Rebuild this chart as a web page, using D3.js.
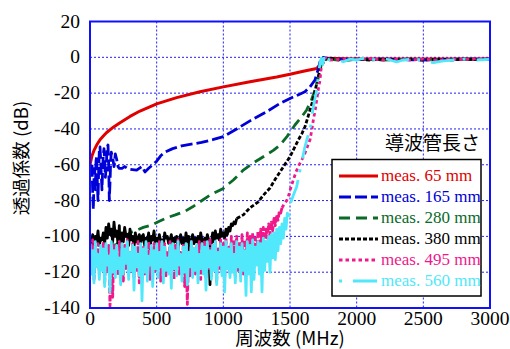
<!DOCTYPE html>
<html><head><meta charset="utf-8">
<script src="https://cdn.jsdelivr.net/npm/d3@7"></script>
<style>body{margin:0;background:#fff}svg{display:block}</style>
</head><body>
<script>
// ---------- data ----------
const xTicks = [0,500,1000,1500,2000,2500,3000];
const yTicks = [20,0,-20,-40,-60,-80,-100,-120,-140];
const seriesLabels = ["meas. 65 mm","meas. 165 mm","meas. 280 mm","meas. 380 mm","meas. 495 mm","meas. 560 mm"];
const xTitle = "周波数 (MHz)";
const yTitle = "透過係数 (dB)";
const legendTitle = "導波管長さ";

const s65 = [[0,-60],[15,-55],[30,-52],[50,-49],[75,-46],[100,-44],[125,-42],[175,-39],[225,-36.5],[300,-33],[375,-30],[500,-26],[650,-22.5],[825,-19.2],[1000,-16.5],[1200,-13.6],[1400,-11],[1500,-9.5],[1600,-7.8],[1700,-6.2],[1730,-4],[1750,-1],[1780,-0.5],[2000,-1],[2500,-1],[3000,-1]];

const s165 = [[15,-60],[20,-75],[25,-85],[30,-68],[35,-62],[40,-74],[45,-58],[50,-55],[55,-70],[60,-80],[65,-63],[70,-52],[75,-50],[80,-57],[85,-66],[90,-74],[95,-62],[100,-54],[105,-51],[110,-58],[115,-67],[120,-63],[125,-56],[130,-50],[135,-49],[140,-60],[145,-80],[150,-70],[155,-58],[160,-53],[170,-56],[180,-61],[190,-54],[200,-57],[210,-61],[220,-62],[240,-62],[260,-61],[280,-62],[300,-62.5],[350,-63],[390,-61],[412,-64],[440,-62],[470,-60],[500,-58],[530,-55],[562,-53],[620,-51],[687,-49.5],[760,-48.5],[837,-47.5],[920,-46],[1000,-44.3],[1100,-40],[1200,-35.5],[1325,-30.4],[1420,-26],[1500,-23],[1560,-21],[1612,-19.2],[1650,-16.5],[1687,-12.7],[1710,-7],[1725,-2.5],[1750,0],[1800,-1],[2000,-1.2],[2200,-1],[2500,-1.5],[2800,-1],[3000,-1]];

const s280 = [[150,-104],[190,-105],[220,-103],[260,-100],[300,-98],[350,-96.5],[400,-95],[462,-93.7],[520,-91.5],[580,-89.5],[640,-88],[712,-86],[770,-83.5],[825,-80.7],[900,-77],[1000,-73.2],[1075,-68.5],[1150,-63],[1225,-59],[1300,-55.5],[1375,-52],[1425,-49],[1480,-44],[1537,-37.8],[1585,-33.5],[1625,-29.4],[1660,-24],[1687,-18.3],[1710,-12],[1725,-7],[1745,-1],[1760,0.5],[1800,-1],[1900,-2],[2000,-1],[2200,-1.5],[2400,-1],[2600,-1.5],[2800,-1],[3000,-1.2]];

const s380 = [[0,-101],[10,-104],[20,-99],[30,-106],[40,-100],[50,-103],[60,-97],[70,-105],[80,-101],[90,-102],
[100,-98],[110,-104],[120,-95],[130,-101],[140,-93],[150,-99],[160,-96],[170,-103],[180,-92],[190,-100],
[200,-97],[210,-104],[220,-94],[230,-119],[240,-98],[250,-103],[260,-95],[270,-100],[280,-99],[290,-105],
[300,-96],[310,-102],[320,-100],[330,-106],[340,-98],[350,-103],[360,-101],[370,-99],[380,-104],[390,-100],
[400,-99],[410,-105],[420,-101],[430,-103],[440,-98],[450,-107],[460,-100],[470,-102],[480,-97],[490,-104],
[500,-101],[510,-106],[520,-99],[530,-103],[540,-102],[550,-105],[560,-98],[570,-101],[580,-100],[590,-104],
[600,-102],[610,-99],[620,-105],[630,-101],[640,-103],[650,-100],[660,-107],[670,-102],[680,-99],[690,-104],
[700,-101],[710,-105],[720,-98],[730,-103],[740,-100],[750,-115],[760,-102],[770,-99],[780,-104],[790,-101],
[800,-103],[810,-100],[820,-106],[830,-98],[840,-102],[850,-105],[860,-101],[870,-104],[880,-99],[890,-102],
[900,-127],[910,-104],[920,-98],[930,-103],[940,-97],[950,-101],[960,-99],[970,-102],[980,-96],[990,-100],
[1000,-98],[1010,-101],[1020,-96],[1030,-99],[1040,-95],[1050,-97],[1060,-93],[1070,-94],[1080,-92],[1090,-93],
[1100,-90],[1125,-89],[1150,-88],[1175,-86],[1200,-84],[1230,-82.5],[1262,-80.7],[1300,-77],[1350,-73],[1390,-68],[1425,-64],[1460,-60],[1500,-55.5],[1530,-51],[1562,-46.2],[1590,-42.5],[1612,-38.8],[1630,-34.5],[1650,-29.4],[1670,-24.5],[1687,-19.2],[1705,-13],[1725,-7],[1740,-4],[1755,-2.5],[1770,-1],[1800,-0.5],[1900,-1.5],[2000,-1],[2100,-1.5],[2200,-1],[2300,-1.5],[2400,-1],[2500,-1.5],[2600,-1],[2700,-1.5],[2800,-1],[2900,-1.3],[3000,-1]];

const s495 = [[0,-106],[10,-118],[20,-102],[30,-124],[40,-109],[50,-115],[60,-104],[70,-121],[80,-111],[90,-117],
[100,-103],[110,-126],[120,-108],[130,-119],[140,-105],[150,-139],[160,-110],[170,-134],[180,-104],[190,-118],
[200,-107],[210,-122],[220,-103],[230,-116],[240,-109],[250,-125],[260,-105],[270,-119],[280,-102],[290,-121],
[300,-108],[310,-117],[320,-104],[330,-123],[340,-106],[350,-119],[360,-103],[370,-126],[380,-110],[390,-116],
[400,-105],[410,-121],[420,-108],[430,-118],[440,-103],[450,-124],[460,-107],[470,-116],[480,-104],[490,-120],
[500,-109],[510,-117],[520,-103],[530,-125],[540,-106],[550,-119],[560,-104],[570,-122],[580,-108],[590,-118],
[600,-103],[610,-120],[620,-107],[630,-124],[640,-105],[650,-117],[660,-102],[670,-121],[680,-109],[690,-119],
[700,-104],[710,-128],[720,-106],[730,-138],[740,-108],[750,-122],[760,-103],[770,-118],[780,-107],[790,-121],
[800,-105],[810,-119],[820,-103],[830,-124],[840,-108],[850,-116],[860,-102],[870,-123],[880,-106],[890,-118],
[900,-101],[910,-122],[920,-105],[930,-117],[940,-103],[950,-125],[960,-107],[970,-119],[980,-102],[990,-120],
[1000,-104],[1010,-124],[1020,-101],[1030,-118],[1040,-106],[1050,-121],[1060,-100],[1070,-117],[1080,-103],[1090,-123],
[1100,-100],[1110,-119],[1120,-103],[1130,-116],[1140,-99],[1150,-121],[1160,-102],[1170,-115],[1180,-98],[1190,-118],
[1200,-100],[1210,-114],[1220,-98],[1230,-112],[1240,-101],[1250,-109],[1260,-97],[1270,-108],[1280,-96],[1290,-105],
[1300,-95],[1310,-104],[1320,-96],[1330,-101],[1340,-93],[1350,-99],[1360,-92],[1370,-97],[1380,-90],[1390,-94],
[1400,-88],[1410,-91],[1420,-86],[1430,-87],[1440,-84],[1460,-81.5],[1475,-80],[1487,-78],[1505,-73],[1525,-68.5],[1545,-64],[1562,-61],[1590,-57],[1612,-53.6],[1630,-50],[1650,-46],[1665,-40],[1675,-35],[1690,-29],[1700,-24],[1712,-18],[1725,-12.7],[1737,-3.4],[1750,-1],[1770,-0.5],[1800,-1.5],[1900,-1],[2000,-1.2],[2100,-0.8],[2200,-1.5],[2300,-1],[2400,-1.5],[2500,-1],[2600,-1.5],[2700,-1],[2800,-1.2],[2900,-0.8],[3000,-1]];

const s560 = [[0,-104],[10,-121],[20,-108],[30,-126],[40,-103],[50,-117],[60,-110],[70,-124],[80,-105],[90,-119],
[100,-107],[110,-128],[120,-104],[130,-116],[140,-111],[150,-131],[160,-103],[170,-120],[180,-108],[190,-123],
[200,-105],[210,-118],[220,-112],[230,-127],[240,-104],[250,-121],[260,-107],[270,-115],[280,-103],[290,-124],
[300,-109],[310,-119],[320,-105],[330,-130],[340,-106],[350,-117],[360,-110],[370,-122],[380,-104],[390,-136],
[400,-107],[410,-120],[420,-103],[430,-125],[440,-111],[450,-116],[460,-105],[470,-128],[480,-108],[490,-118],
[500,-104],[510,-123],[520,-109],[530,-117],[540,-103],[550,-126],[560,-106],[570,-119],[580,-112],[590,-121],
[600,-105],[610,-129],[620,-104],[630,-118],[640,-108],[650,-122],[660,-103],[670,-116],[680,-110],[690,-125],
[700,-106],[710,-120],[720,-104],[730,-127],[740,-109],[750,-117],[760,-103],[770,-123],[780,-107],[790,-119],
[800,-105],[810,-126],[820,-110],[830,-118],[840,-104],[850,-121],[860,-106],[870,-130],[880,-103],[890,-117],
[900,-108],[910,-124],[920,-105],[930,-119],[940,-103],[950,-127],[960,-109],[970,-116],[980,-104],[990,-122],
[1000,-106],[1010,-131],[1020,-103],[1030,-118],[1040,-107],[1050,-123],[1060,-104],[1070,-120],[1080,-110],[1090,-126],
[1100,-103],[1110,-117],[1120,-106],[1130,-125],[1140,-104],[1150,-119],[1160,-108],[1170,-133],[1180,-103],[1190,-121],
[1200,-105],[1210,-131],[1220,-102],[1230,-124],[1240,-106],[1250,-116],[1260,-103],[1270,-121],[1280,-104],[1290,-131],
[1300,-101],[1310,-119],[1320,-103],[1330,-114],[1340,-100],[1350,-120],[1360,-99],[1370,-112],[1380,-98],[1390,-113],
[1400,-96],[1410,-108],[1420,-95],[1430,-104],[1440,-93],[1450,-101],[1460,-90],[1470,-96],[1480,-87],[1490,-89],
[1500,-82.5],[1525,-77],[1550,-72.3],[1575,-63],[1595,-56],[1612,-50],[1630,-45],[1650,-40.6],[1665,-33],[1675,-27.6],[1690,-22],[1700,-18.3],[1712,-10],[1725,-3.4],[1735,-0.5],[1745,-4],[1755,-0.5],[1765,-3],[1780,-1],[1800,-1.5],[1850,-1.2],[1900,-2.5],[1950,-1],[2000,-1.5],[2050,-0.6],[2100,-1],[2150,-1.4],[2200,-0.6],[2250,-1.5],[2300,-2.5],[2350,-1.5],[2425,-1],[2500,-1.6],[2575,-3],[2650,-2],[2725,-1.5],[2800,-1],[2900,-1.5],[3000,-1.2]];

const seriesData = [s65, s165, s280, s380, s495, s560];
// frequency (MHz) up to which each measured trace is in its noise floor
const noiseEnd = [0, 0, 0, 1100, 1440, 1490];

// ---------- styles ----------
const colors = ["#e00000","#0000d8","#0a6a28","#000000","#f0188a","#50e8fa"];
const dashes = [null,"12,4","11,6","4,2","3.5,3","3,11,24,8"];
const noiseDashes = [null,null,null,null,"6,2",null];
const widths = [3,2.8,2.8,2.8,2.8,2.8];
const SERIF = '"Liberation Serif"';
const CJK = '"Noto Sans CJK JP"';

const W = 510, H = 349;
const svg = d3.select("body").append("svg").attr("width",W).attr("height",H);
const x = d3.scaleLinear().domain([0,3000]).range([90,490]);
const y = d3.scaleLinear().domain([-140,20]).range([308,21.5]);

// grid
const grid = svg.append("g").attr("stroke","#1f1fff").attr("stroke-width",1).attr("stroke-dasharray","2,2");
grid.selectAll(".vx").data(xTicks.slice(1,-1)).join("line")
  .attr("x1",d=>x(d)).attr("x2",d=>x(d)).attr("y1",y(20)).attr("y2",y(-140));
grid.selectAll(".hy").data(yTicks.slice(1,-1)).join("line")
  .attr("y1",d=>y(d)).attr("y2",d=>y(d)).attr("x1",x(0)).attr("x2",x(3000));

// lines
svg.append("clipPath").attr("id","clip").append("rect")
  .attr("x",x(0)).attr("y",y(20)).attr("width",x(3000)-x(0)).attr("height",y(-140)-y(20));
const line = d3.line().x(d=>x(d[0])).y(d=>y(d[1]));
const lg = svg.append("g").attr("clip-path","url(#clip)");
seriesData.forEach((s,i)=>{
  const ne = noiseEnd[i];
  const noisy = s.filter(d=>d[0]<=ne);
  const smooth = ne>0 ? s.filter(d=>d[0]>=noisy[noisy.length-1][0]) : s;
  if (noisy.length>1) {
    lg.append("path").attr("d",line(noisy)).attr("fill","none")
      .attr("stroke",colors[i]).attr("stroke-width",widths[i])
      .attr("stroke-dasharray",noiseDashes[i]).attr("stroke-linejoin","round");
  }
  lg.append("path").attr("d",line(smooth)).attr("fill","none")
    .attr("stroke",colors[i]).attr("stroke-width",widths[i])
    .attr("stroke-dasharray",dashes[i]).attr("stroke-linejoin","round");
});

// frame
svg.append("rect").attr("x",x(0)).attr("y",y(20)).attr("width",x(3000)-x(0)).attr("height",y(-140)-y(20))
  .attr("fill","none").attr("stroke","#1010ff").attr("stroke-width",2);

// tick labels
svg.append("g").selectAll("text").data(xTicks).join("text")
  .attr("x",d=>x(d)).attr("y",325).attr("text-anchor","middle")
  .style("font-family",SERIF).style("font-size","19.5px").attr("fill","#000").text(d=>d);
svg.append("g").selectAll("text").data(yTicks).join("text")
  .attr("x",80).attr("y",d=>y(d)+6).attr("text-anchor","end")
  .style("font-family",SERIF).style("font-size","19.5px").attr("fill","#000").text(d=>d);

// axis titles
svg.append("text").attr("x",290).attr("y",345).attr("text-anchor","middle")
  .style("font-family",CJK).style("font-size","18.5px").attr("fill","#000").text(xTitle);
svg.append("text").attr("transform","translate(28,158) rotate(-90)").attr("text-anchor","middle")
  .style("font-family",CJK).style("font-size","18.5px").attr("fill","#000").text(yTitle);

// legend
svg.append("text").attr("x",480).attr("y",150).attr("text-anchor","end")
  .style("font-family",CJK).style("font-size","19px").attr("fill","#000").text(legendTitle);
svg.append("rect").attr("x",332).attr("y",159.5).attr("width",149).attr("height",136.5)
  .attr("fill","#fff").attr("stroke","#000").attr("stroke-width",1.5);
const leg = svg.append("g");
seriesLabels.forEach((lab,i)=>{
  const by = 181 + i*21;
  leg.append("line").attr("x1",339).attr("x2",378).attr("y1",by-5).attr("y2",by-5)
    .attr("stroke",colors[i]).attr("stroke-width",3).attr("stroke-dasharray",dashes[i]);
  leg.append("text").attr("x",381).attr("y",by)
    .style("font-family",SERIF).style("font-size","17px").attr("fill",colors[i]).text(lab);
});
</script>
</body></html>
